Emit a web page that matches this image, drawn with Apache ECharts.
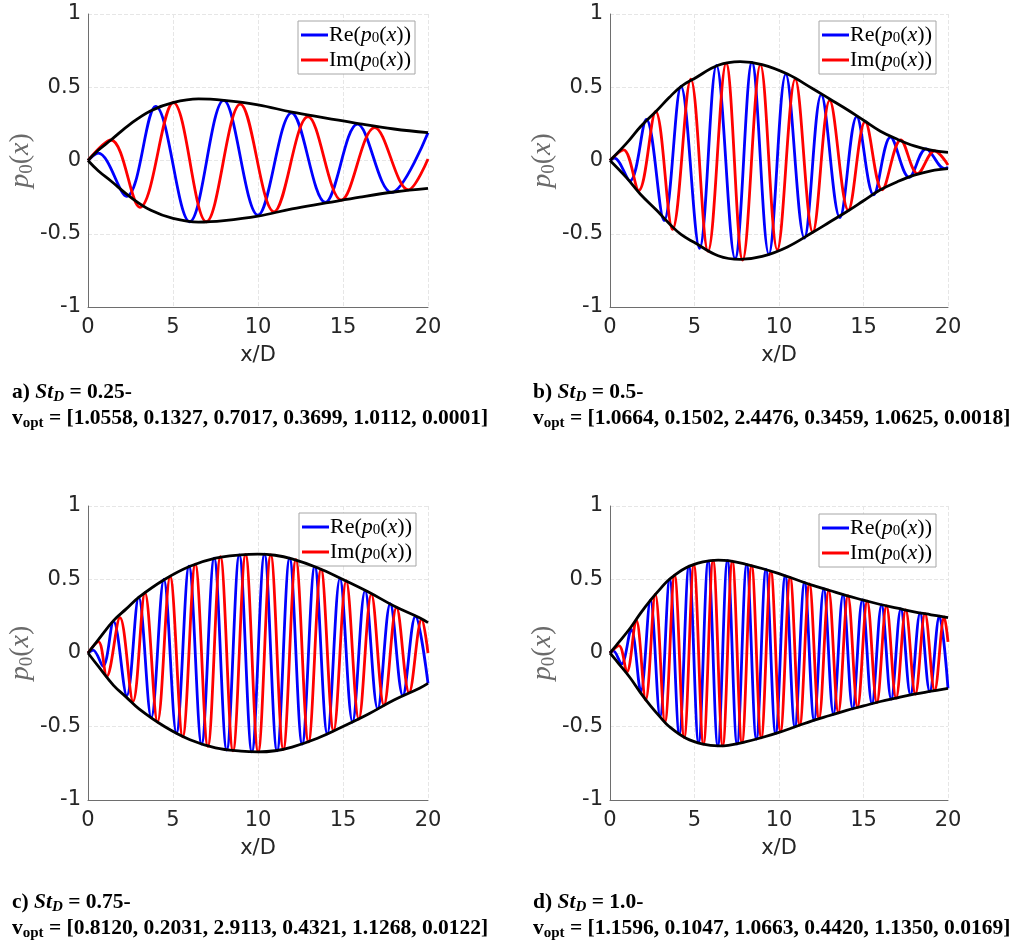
<!DOCTYPE html>
<html>
<head>
<meta charset="utf-8">
<script src="https://cdn.jsdelivr.net/npm/echarts@6/dist/echarts.min.js"></script>
<style>
html, body { margin: 0; background: #fff; }
#main { width: 1012px; height: 947px; }
</style>
</head>
<body>
<div id="main"></div>
<script>
// 各子图读数：包络 |p0(x)| 的上半支，Re / Im 的极值点 [x, y]
const envA = [[0,0],[0.6,0.07],[1.35,0.14],[2.5,0.25],[3.7,0.34],[5,0.395],[6.5,0.42],[8,0.41],[10,0.38],[12,0.33],[14,0.29],[16,0.25],[18,0.215],[20,0.19]];
const reA = [[0,0],[0.6,0.05],[2.27,-0.245],[3.98,0.37],[5.98,-0.418],[7.98,0.41],[10.0,-0.373],[11.98,0.325],[13.96,-0.286],[15.85,0.248],[17.85,-0.218],[20,0.19]];
const imA = [[0,0],[1.35,0.14],[3.05,-0.32],[5.02,0.395],[6.96,-0.418],[8.96,0.385],[10.94,-0.35],[12.94,0.3],[14.9,-0.27],[16.86,0.225],[18.85,-0.2],[20,0.01]];

const envB = [[0,0],[1,0.12],[1.8,0.23],[2.76,0.34],[3.5,0.43],[4.2,0.505],[5,0.56],[6.4,0.65],[7.7,0.675],[9,0.655],[10.5,0.59],[12,0.49],[13,0.42],[14,0.35],[15,0.275],[16,0.2],[17,0.145],[18,0.1],[19,0.07],[20,0.055]];
const reB = [[0,0],[0.26,0.016],[1.18,-0.14],[2.15,0.28],[3.2,-0.41],[4.2,0.505],[5.3,-0.6],[6.3,0.65],[7.4,-0.67],[8.4,0.67],[9.4,-0.64],[10.4,0.59],[11.5,-0.53],[12.5,0.45],[13.6,-0.39],[14.6,0.3],[15.6,-0.235],[16.6,0.16],[17.7,-0.115],[18.7,0.08],[19.8,-0.056],[20,-0.045]];
const imB = [[0,0],[0.8,0.073],[1.7,-0.205],[2.7,0.335],[3.7,-0.47],[4.78,0.555],[5.8,-0.62],[6.87,0.665],[7.85,-0.68],[8.9,0.655],[9.9,-0.61],[10.96,0.555],[12.0,-0.49],[13.0,0.41],[14.1,-0.34],[15.1,0.265],[16.1,-0.2],[17.2,0.14],[18.2,-0.09],[19.2,0.066],[20,-0.03]];

const envC = [[0,0],[0.6,0.09],[1.5,0.22],[2.25,0.3],[3,0.38],[4.5,0.5],[6,0.59],[7.5,0.645],[9,0.668],[10,0.673],[11,0.665],[12,0.64],[13.5,0.58],[15,0.5],[16.5,0.415],[18,0.32],[19.5,0.24],[20,0.207]];
const reC = [[0,0],[0.3,0.02],[0.88,-0.09],[1.5,0.215],[2.28,-0.29],[2.98,0.38],[3.72,-0.44],[4.46,0.5],[5.2,-0.545],[5.94,0.59],[6.68,-0.62],[7.42,0.645],[8.16,-0.66],[8.9,0.668],[9.64,-0.673],[10.38,0.672],[11.12,-0.665],[11.86,0.645],[12.6,-0.62],[13.34,0.59],[14.08,-0.55],[14.82,0.51],[15.56,-0.47],[16.3,0.425],[17.04,-0.38],[17.78,0.335],[18.52,-0.29],[19.26,0.25],[20,-0.207]];
const imC = [[0,0],[0.61,0.077],[1.1,-0.16],[1.88,0.24],[2.65,-0.33],[3.35,0.41],[4.09,-0.47],[4.83,0.52],[5.57,-0.57],[6.31,0.605],[7.05,-0.635],[7.79,0.655],[8.53,-0.665],[9.27,0.67],[10.01,-0.673],[10.75,0.668],[11.49,-0.655],[12.23,0.635],[12.97,-0.605],[13.71,0.57],[14.45,-0.53],[15.19,0.49],[15.93,-0.45],[16.67,0.4],[17.41,-0.355],[18.15,0.31],[18.89,-0.27],[19.63,0.23],[20,0.0]];

const envD = [[0,0],[0.5,0.07],[1.2,0.17],[1.8,0.27],[2.4,0.36],[3,0.44],[3.5,0.5],[4.5,0.58],[5.5,0.62],[6.4,0.632],[7,0.628],[8,0.605],[9,0.575],[10,0.54],[11,0.5],[12,0.46],[13,0.425],[14,0.39],[15,0.36],[16,0.33],[17,0.305],[18,0.28],[19,0.26],[20,0.24]];
const reD = [[0,0],[0.2,0.015],[0.68,-0.075],[1.25,0.16],[1.82,-0.26],[2.39,0.36],[2.96,-0.43],[3.53,0.5],[4.1,-0.55],[4.67,0.59],[5.24,-0.61],[5.81,0.625],[6.38,-0.632],[6.95,0.628],[7.52,-0.62],[8.09,0.603],[8.66,-0.585],[9.23,0.568],[9.8,-0.548],[10.37,0.525],[10.94,-0.502],[11.51,0.48],[12.08,-0.457],[12.65,0.437],[13.22,-0.417],[13.79,0.397],[14.36,-0.38],[14.93,0.362],[15.5,-0.345],[16.07,0.328],[16.64,-0.314],[17.21,0.3],[17.78,-0.285],[18.35,0.273],[18.92,-0.262],[19.49,0.25],[20,-0.24]];
const imD = [[0,0],[0.53,0.05],[1.0,-0.13],[1.55,0.225],[2.11,-0.32],[2.68,0.4],[3.25,-0.47],[3.82,0.53],[4.39,-0.575],[4.96,0.6],[5.53,-0.62],[6.1,0.63],[6.67,-0.632],[7.24,0.625],[7.81,-0.61],[8.38,0.595],[8.95,-0.578],[9.52,0.555],[10.09,-0.535],[10.66,0.515],[11.23,-0.49],[11.8,0.47],[12.37,-0.447],[12.94,0.427],[13.51,-0.407],[14.08,0.39],[14.65,-0.37],[15.22,0.353],[15.79,-0.337],[16.36,0.32],[16.93,-0.307],[17.5,0.293],[18.07,-0.28],[18.64,0.268],[19.21,-0.256],[19.78,0.245],[20,0.075]];

// 图注文字
const panelTags = ["a)", "b)", "c)", "d)"];
const stValues = ["0.25", "0.5", "0.75", "1.0"];
const voptValues = [
	"[1.0558, 0.1327, 0.7017, 0.3699, 1.0112, 0.0001]",
	"[1.0664, 0.1502, 2.4476, 0.3459, 1.0625, 0.0018]",
	"[0.8120, 0.2031, 2.9113, 0.4321, 1.1268, 0.0122]",
	"[1.1596, 0.1047, 1.0663, 0.4420, 1.1350, 0.0169]"
];
const seriesNames = ["Re(p0(x))", "Im(p0(x))"];

const panels = [
	{ env: envA, re: reA, im: imA },
	{ env: envB, re: reB, im: imB },
	{ env: envC, re: reC, im: imC },
	{ env: envD, re: reD, im: imD }
];

// 布局
const grids = [
	{ left: 88, top: 14, width: 340, height: 293 },
	{ left: 610, top: 14, width: 338, height: 293 },
	{ left: 88, top: 506, width: 340, height: 294 },
	{ left: 610, top: 506, width: 338, height: 294 }
];
const legendPos = [
	{ left: 298, top: 21 },
	{ left: 819, top: 21 },
	{ left: 299, top: 513 },
	{ left: 819, top: 514 }
];
const captionPos = [
	{ x: 12, y: 394 },
	{ x: 533, y: 394 },
	{ x: 12, y: 904 },
	{ x: 533, y: 904 }
];

const axisGray = "#262626";
const serif = "'Liberation Serif', 'DejaVu Serif', serif";
const sans = "'DejaVu Sans', sans-serif";

const mathRich = {
	n: { fontFamily: serif, fontSize: 22, color: "#000", lineHeight: 22 },
	i: { fontFamily: serif, fontSize: 22, fontStyle: "italic", color: "#000", lineHeight: 22 },
	s: { fontFamily: serif, fontSize: 15, color: "#000", verticalAlign: "bottom", lineHeight: 17 }
};

const xAxes = [], yAxes = [], series = [], legends = [], graphics = [];

panels.forEach((p, k) => {
	xAxes.push({
		type: "value", gridIndex: k, min: 0, max: 20, interval: 5,
		name: "x/D", nameLocation: "middle", nameGap: 38,
		nameTextStyle: { fontFamily: sans, fontSize: 21, color: axisGray },
		axisLine: { show: true, onZero: false, lineStyle: { color: "#6e6e6e", width: 1 } },
		axisTick: { show: false },
		axisLabel: { fontFamily: sans, fontSize: 21, color: axisGray, margin: 10 },
		splitLine: { show: true, lineStyle: { color: "#e6e6e6", type: "dashed", width: 1 } }
	});
	yAxes.push({
		type: "value", gridIndex: k, min: -1, max: 1, interval: 0.5,
		name: "{i|p}{s|0}{n|(}{i|x}{n|)}", nameLocation: "middle", nameGap: 46, nameRotate: 90,
		nameTextStyle: {
			rich: {
				n: { fontFamily: serif, fontSize: 28, color: "#6a6a6a", lineHeight: 30 },
				i: { fontFamily: serif, fontSize: 28, fontStyle: "italic", color: "#6a6a6a", lineHeight: 30 },
				s: { fontFamily: serif, fontSize: 19, color: "#6a6a6a", verticalAlign: "bottom", lineHeight: 24 }
			}
		},
		axisLine: { show: true, onZero: false, lineStyle: { color: "#6e6e6e", width: 1 } },
		axisTick: { show: false },
		axisLabel: { fontFamily: sans, fontSize: 21, color: axisGray, margin: 7 },
		splitLine: { show: true, lineStyle: { color: "#e6e6e6", type: "dashed", width: 1 } }
	});

	const common = { type: "line", xAxisIndex: k, yAxisIndex: k, symbol: "none", showSymbol: false, silent: true };
	series.push(Object.assign({}, common, {
		name: seriesNames[0], data: p.re, smooth: 0.36,
		lineStyle: { color: "#0000ff", width: 2.8 }, itemStyle: { color: "#0000ff" }, z: 2
	}));
	series.push(Object.assign({}, common, {
		name: seriesNames[1], data: p.im, smooth: 0.36,
		lineStyle: { color: "#ff0000", width: 2.8 }, itemStyle: { color: "#ff0000" }, z: 3
	}));
	series.push(Object.assign({}, common, {
		name: "upper", data: p.env, smooth: 0.4,
		lineStyle: { color: "#000", width: 2.8 }, z: 4
	}));
	series.push(Object.assign({}, common, {
		name: "lower", data: p.env.map((d) => [d[0], -d[1]]), smooth: 0.4,
		lineStyle: { color: "#000", width: 2.8 }, z: 4
	}));

	legends.push({
		left: legendPos[k].left, top: legendPos[k].top,
		orient: "vertical", data: seriesNames, selectedMode: false,
		icon: "rect", itemWidth: 27, itemHeight: 3, itemGap: 3,
		padding: [3, 4, 3, 3], borderColor: "#a6a6a6", borderWidth: 1, backgroundColor: "#fff",
		formatter: (name) => (name === seriesNames[0]
			? "{n|Re(}{i|p}{s|0}{n|(}{i|x}{n|))}"
			: "{n|Im(}{i|p}{s|0}{n|(}{i|x}{n|))}"),
		textStyle: { rich: mathRich, padding: [0, 0, 0, -4] }
	});

	// 图注两行
	const capB = { fontFamily: serif, fontWeight: "bold", fontSize: 21.5, fill: "#000", lineHeight: 26 };
	graphics.push({
		type: "text", left: captionPos[k].x, top: captionPos[k].y - 13,
		style: {
			text: "{b|" + panelTags[k] + " }{bi|St}{bis|D}{b| = " + stValues[k] + "-}",
			rich: {
				b: capB,
				bi: Object.assign({}, capB, { fontStyle: "italic" }),
				bis: { fontFamily: serif, fontWeight: "bold", fontStyle: "italic", fontSize: 15, fill: "#000", verticalAlign: "bottom", lineHeight: 18 }
			}
		}
	});
	graphics.push({
		type: "text", left: captionPos[k].x, top: captionPos[k].y + 13,
		style: {
			text: "{b|v}{bs|opt}{b| = " + voptValues[k] + "}",
			rich: {
				b: capB,
				bs: { fontFamily: serif, fontWeight: "bold", fontSize: 15, fill: "#000", verticalAlign: "bottom", lineHeight: 18 }
			}
		}
	});
});

const chart = echarts.init(document.getElementById("main"));
chart.setOption({
	animation: false,
	backgroundColor: "#fff",
	grid: grids,
	xAxis: xAxes,
	yAxis: yAxes,
	legend: legends,
	series: series,
	graphic: graphics
});
</script>
</body>
</html>
